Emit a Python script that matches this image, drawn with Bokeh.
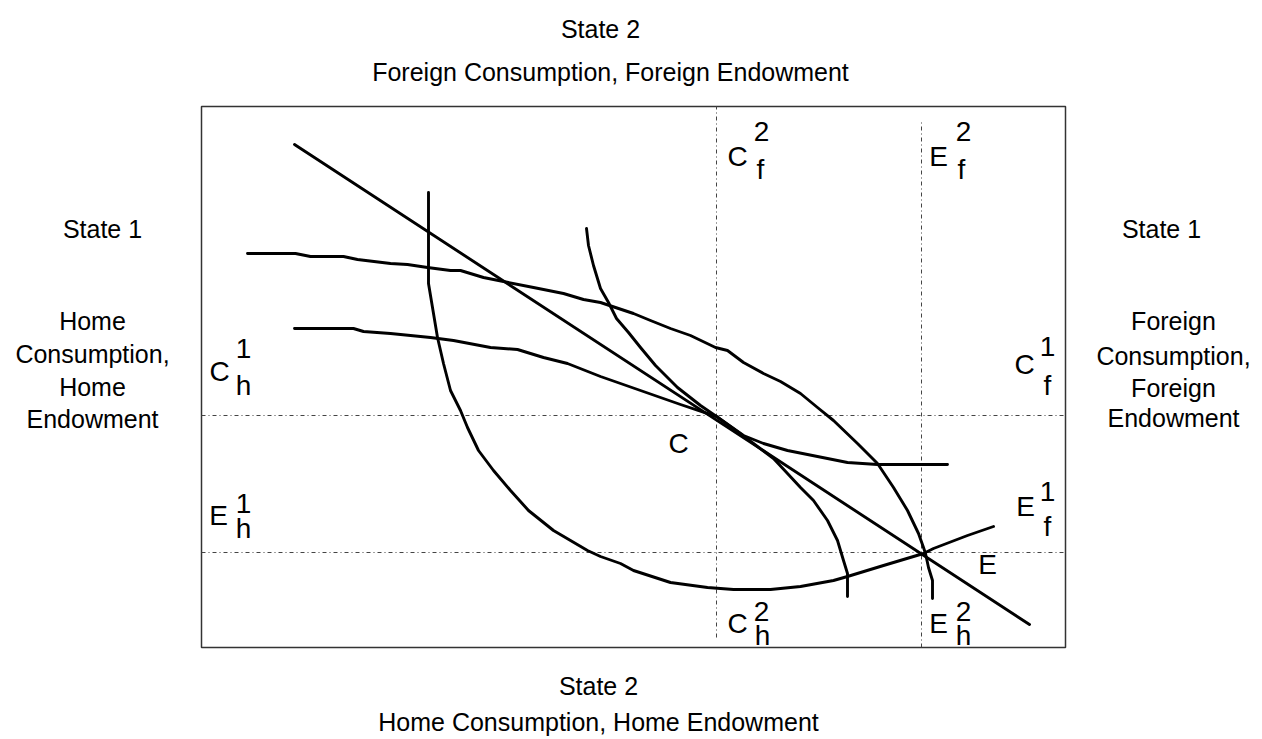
from bokeh.plotting import figure
from bokeh.models import Range1d, Label
from bokeh.embed import file_html
from bokeh.resources import INLINE

# ---- data (box units: x from left edge of box, y from bottom edge of box) ----
box_w, box_h = 864, 541

# consumption point C and endowment point E
C_pt = (515, 232)
E_pt = (720, 95)

# budget line
budget_x = [93, 828]
budget_y = [503, 23]

# Home indifference curve through E
home_E_x = [227, 227, 231, 236, 242, 249, 259, 266, 277, 292, 309, 327, 352, 386, 399, 419, 432,
            469, 506, 532, 569, 599, 632, 646, 682, 722, 732, 766, 792]
home_E_y = [455, 364, 340, 310, 284, 257, 237, 220, 197, 177, 157, 137, 117, 97, 91, 84, 77,
            65, 60, 58, 58, 61, 67, 71, 82, 94, 99, 112, 121]

# Home indifference curve through C
home_C_x = [385, 387, 392, 399, 407, 415, 427, 439, 454, 476, 499, 515, 544, 572, 586, 599,
            612, 626, 636, 642, 646, 646]
home_C_y = [419, 402, 382, 359, 345, 329, 315, 300, 282, 260, 242, 231, 210, 189, 174, 160,
            147, 127, 107, 87, 74, 51]

# Foreign indifference curve through E
for_E_x = [46, 94, 109, 142, 156, 189, 206, 226, 249, 259, 282, 302, 332, 362, 382, 399, 432,
           449, 469, 489, 514, 526, 542, 562, 579, 599, 616, 632, 656, 676, 692, 706, 717, 722,
           724, 727, 731, 731]
for_E_y = [394, 394, 391, 391, 388, 384, 383, 380, 377, 377, 370, 366, 360, 354, 348, 345, 334,
           327, 319, 312, 300, 297, 285, 274, 266, 254, 240, 227, 204, 184, 160, 137, 114, 100,
           94, 80, 67, 49]

# Foreign indifference curve through C
for_C_x = [93, 152, 162, 189, 229, 252, 289, 316, 342, 366, 399, 439, 479, 515, 542, 562, 586,
           626, 646, 676, 746]
for_C_y = [319, 319, 316, 314, 310, 307, 300, 298, 290, 284, 271, 257, 243, 231, 212, 204, 197,
           189, 185, 183, 183]

# ---- figure: the frame covers the whole canvas, the box is drawn as a quad ----
W, H = 1260, 737
OX, OY = 201, 647   # box origin position on the canvas
p = figure(width=W, height=H,
           x_range=Range1d(-OX, W - OX), y_range=Range1d(OY - H, OY),
           output_backend="svg", toolbar_location=None,
           min_border=0)
p.axis.visible = False
p.grid.visible = False
p.outline_line_color = None
p.background_fill_color = "white"
p.border_fill_color = "white"

p.quad(left=[0], right=[box_w], bottom=[0], top=[box_h], fill_alpha=0,
       line_color="#333333", line_width=1.5)

dot = dict(line_color="#444444", line_width=1, line_dash="4 3 1 3")
p.line([0, box_w], [C_pt[1], C_pt[1]], **dot)
p.line([0, box_w], [E_pt[1], E_pt[1]], **dot)
p.line([C_pt[0], C_pt[0]], [10, box_h], **dot)
p.line([E_pt[0], E_pt[0]], [0, 528], **dot)

solid = dict(line_color="black", line_width=2.9, line_join="round", line_cap="round")
p.line(budget_x, budget_y, **solid)
p.line(home_E_x, home_E_y, **solid)
p.line(home_C_x, home_C_y, **solid)
p.line(for_E_x, for_E_y, **solid)
p.line(for_C_x, for_C_y, **solid)

FONT = "Liberation Sans"


def lab(x, y, t, size=25):
    p.add_layout(Label(x=x, y=y, text=t, text_font=FONT, text_font_size=f"{size}px",
                       text_align="center", text_baseline="middle", text_color="black"))


# titles
lab(399, 619, "State 2")
lab(409, 576, "Foreign Consumption, Foreign Endowment")
lab(397, -38, "State 2")
lab(397, -74, "Home Consumption, Home Endowment")
lab(-99, 419, "State 1")
for yy, t in zip([327, 294, 261, 229], ["Home", "Consumption,", "Home", "Endowment"]):
    lab(-109, yy, t)
lab(960, 419, "State 1")
for yy, t in zip([327, 292, 260, 230], ["Foreign", "Consumption,", "Foreign", "Endowment"]):
    lab(972, yy, t)

# point labels with super/subscripts
LS = 28
marks = [
    ("C", (536, 491), "2", (560, 516), "f", (559, 478)),
    ("E", (737, 491), "2", (762, 516), "f", (760, 478)),
    ("C", (536, 24), "2", (560, 36), "h", (561, 12)),
    ("E", (737, 24), "2", (762, 36), "h", (762, 12)),
    ("C", (18, 276), "1", (42, 299), "h", (42, 262)),
    ("E", (17, 132), "1", (42, 144), "h", (42, 119)),
    ("C", (823, 283), "1", (846, 301), "f", (846, 262)),
    ("E", (824, 141), "1", (846, 156), "f", (846, 121)),
]
for m, mp, s, sp, b, bp in marks:
    lab(mp[0], mp[1], m, LS)
    lab(sp[0], sp[1], s, LS)
    lab(bp[0], bp[1], b, LS)
lab(477, 204, "C", LS)
lab(786, 83, "E", LS)

open("out.html", "w").write(file_html(p, INLINE))
